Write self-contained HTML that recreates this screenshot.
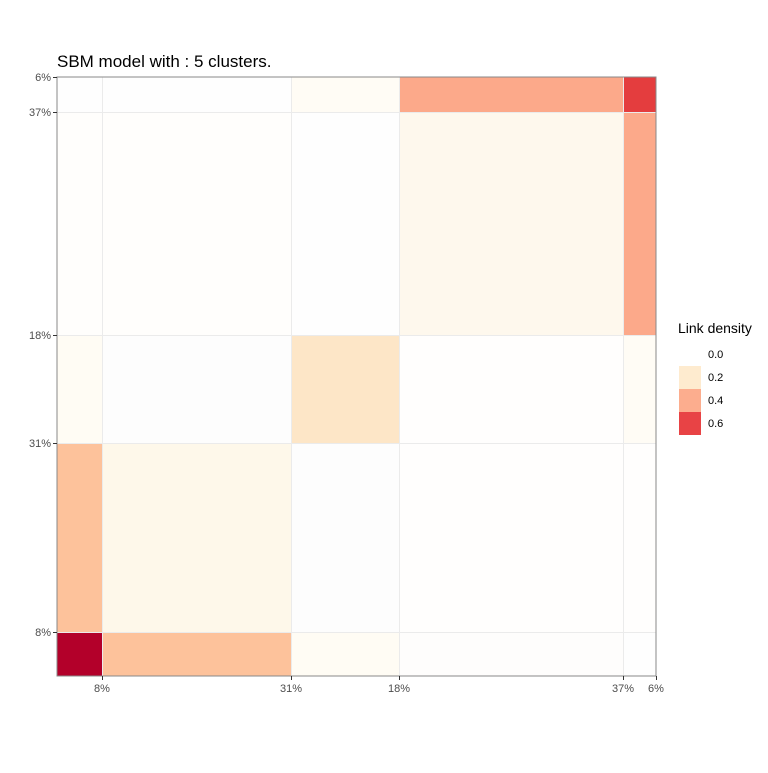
<!DOCTYPE html>
<html><head><meta charset="utf-8"><style>body{margin:0;background:#fff}</style></head><body>
<svg width="768" height="768" xmlns="http://www.w3.org/2000/svg" font-family="Liberation Sans, sans-serif">
<rect width="768" height="768" fill="#fff"/>
<text x="57" y="67" font-size="17" fill="#000">SBM model with : 5 clusters.</text>
<g shape-rendering="crispEdges">
<!-- row0 -->
<rect x="57" y="77" width="45" height="35" fill="#fefefe"/>
<rect x="102" y="77" width="189" height="35" fill="#fefefe"/>
<rect x="291" y="77" width="108" height="35" fill="#fffcf5"/>
<rect x="399" y="77" width="224" height="35" fill="#fca98a"/>
<rect x="623" y="77" width="33" height="35" fill="#e43d3e"/>
<!-- row1 -->
<rect x="57" y="112" width="45" height="223" fill="#fffefc"/>
<rect x="102" y="112" width="189" height="223" fill="#fffefc"/>
<rect x="291" y="112" width="108" height="223" fill="#fefefe"/>
<rect x="399" y="112" width="224" height="223" fill="#fef8ed"/>
<rect x="623" y="112" width="33" height="223" fill="#fca98a"/>
<!-- row2 -->
<rect x="57" y="335" width="45" height="108" fill="#fffcf4"/>
<rect x="102" y="335" width="189" height="108" fill="#fdfdfd"/>
<rect x="291" y="335" width="108" height="108" fill="#fde6c7"/>
<rect x="399" y="335" width="224" height="108" fill="#fffefd"/>
<rect x="623" y="335" width="33" height="108" fill="#fffcf5"/>
<!-- row3 -->
<rect x="57" y="443" width="45" height="189" fill="#fdc29b"/>
<rect x="102" y="443" width="189" height="189" fill="#fef8ea"/>
<rect x="291" y="443" width="108" height="189" fill="#fdfdfd"/>
<rect x="399" y="443" width="224" height="189" fill="#fffefd"/>
<rect x="623" y="443" width="33" height="189" fill="#fffefd"/>
<!-- row4 -->
<rect x="57" y="632" width="45" height="44" fill="#b3002a"/>
<rect x="102" y="632" width="189" height="44" fill="#fdc29b"/>
<rect x="291" y="632" width="108" height="44" fill="#fffcf4"/>
<rect x="399" y="632" width="224" height="44" fill="#fefdfc"/>
<rect x="623" y="632" width="33" height="44" fill="#fefefe"/>
<g stroke="#ebebeb" stroke-width="1">
<line x1="102.5" y1="77" x2="102.5" y2="676"/><line x1="291.5" y1="77" x2="291.5" y2="676"/>
<line x1="399.5" y1="77" x2="399.5" y2="676"/><line x1="623.5" y1="77" x2="623.5" y2="676"/>
<line x1="57" y1="112.5" x2="656" y2="112.5"/><line x1="57" y1="335.5" x2="656" y2="335.5"/>
<line x1="57" y1="443.5" x2="656" y2="443.5"/><line x1="57" y1="632.5" x2="656" y2="632.5"/>
</g>
<rect x="57" y="77" width="599" height="599" fill="none" stroke="#888" stroke-width="1"/>
<g stroke="#333">
<line x1="53" y1="77.5" x2="57" y2="77.5"/><line x1="53" y1="112.5" x2="57" y2="112.5"/>
<line x1="53" y1="335.5" x2="57" y2="335.5"/><line x1="53" y1="443.5" x2="57" y2="443.5"/>
<line x1="53" y1="632.5" x2="57" y2="632.5"/>
<line x1="102.5" y1="676" x2="102.5" y2="680"/><line x1="291.5" y1="676" x2="291.5" y2="680"/>
<line x1="399.5" y1="676" x2="399.5" y2="680"/><line x1="623.5" y1="676" x2="623.5" y2="680"/>
<line x1="656.5" y1="676" x2="656.5" y2="680"/>
</g>
<rect x="679" y="366" width="22" height="23" fill="#feebcf"/>
<rect x="679" y="389" width="22" height="23" fill="#fcad8e"/>
<rect x="679" y="412" width="22" height="23" fill="#e84345"/>
</g>
<g font-size="11" fill="#4d4d4d" text-anchor="end">
<text x="51" y="81">6%</text><text x="51" y="116">37%</text><text x="51" y="339">18%</text>
<text x="51" y="447">31%</text><text x="51" y="636">8%</text>
</g>
<g font-size="11" fill="#4d4d4d" text-anchor="middle">
<text x="102" y="692">8%</text><text x="291" y="692">31%</text><text x="399" y="692">18%</text>
<text x="623" y="692">37%</text><text x="656" y="692">6%</text>
</g>
<text x="678" y="333" font-size="14" fill="#000">Link density</text>
<g font-size="11" fill="#000">
<text x="708" y="358">0.0</text><text x="708" y="381">0.2</text>
<text x="708" y="404">0.4</text><text x="708" y="427">0.6</text>
</g>
</svg>
</body></html>
